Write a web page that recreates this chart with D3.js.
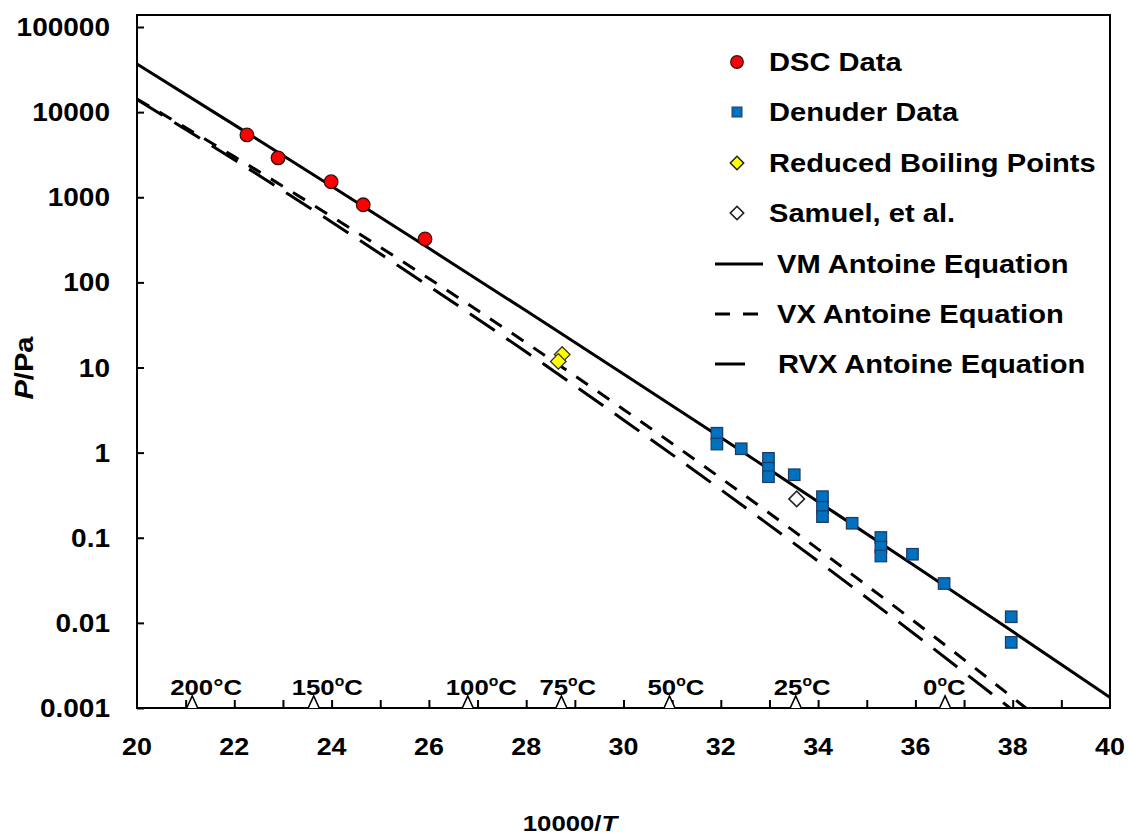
<!DOCTYPE html>
<html>
<head>
<meta charset="utf-8">
<script src="https://cdnjs.cloudflare.com/ajax/libs/d3/7.8.5/d3.min.js"></script>
<style>
  html, body { margin: 0; padding: 0; background: #fff; }
  svg { display: block; }
  text { font-family: "Liberation Sans", Arial, sans-serif; font-weight: bold; fill: #000; }
</style>
</head>
<body>
<script>
// Vapour pressure of VX: measurements and Antoine-equation fits (log P vs 10000/T)

const dscX = [22.26, 22.90, 23.99, 24.65, 25.92];
const dscP = [5400, 2900, 1520, 815, 324];

const denuderX = [31.92, 31.92, 32.42, 32.98, 32.98, 32.98, 33.51, 34.09, 34.09, 34.09,
                  34.70, 35.29, 35.29, 35.29, 35.94, 36.59, 37.97, 37.97];
const denuderP = [1.69, 1.26, 1.11, 0.857, 0.655, 0.521, 0.55, 0.304, 0.228, 0.177,
                  0.148, 0.1007, 0.0778, 0.061, 0.064, 0.029, 0.0118, 0.0059];

const boilingX = [28.74, 28.66];
const boilingP = [14.2, 11.8];

const samuelX = [33.56];
const samuelP = [0.286];

// Antoine curves
const vmX = [20, 22, 24, 26, 28, 30, 32, 34, 36, 38, 40];
const vmP = [36700, 7080, 1343, 251, 46.3, 8.41, 1.51, 0.265, 0.0462, 0.0079, 0.00133];

const vxX = [20, 22, 24, 26, 28, 30, 32, 34, 36, 38, 38.27];
const vxP = [14260, 3000, 594, 111, 19.5, 3.22, 0.502, 0.0736, 0.01016, 0.001324, 0.001];

const rvxX = [20, 22, 24, 26, 28, 30, 32, 34, 36, 37.944];
const rvxP = [14060, 2754, 512, 90.4, 15.2, 2.42, 0.367, 0.0530, 0.00725, 0.001];

// Reference temperatures marked along the x axis
const tempC = [200, 150, 100, 75, 50, 25, 0];
const tempLabels = ["200°C", "150", "100", "75", "50", "25", "0"];

const yTicks = [0.001, 0.01, 0.1, 1, 10, 100, 1000, 10000, 100000];
const yTickLabels = ["0.001", "0.01", "0.1", "1", "10", "100", "1000", "10000", "100000"];
const xTicks = [20, 22, 24, 26, 28, 30, 32, 34, 36, 38, 40];

const W = 1130, H = 839;
const plotL = 137, plotR = 1110, plotT = 15, plotB = 708;
const SX = 1.12; // horizontal stretch of the lettering

const svg = d3.select("body").append("svg").attr("width", W).attr("height", H);

const x = d3.scaleLinear().domain([20, 40]).range([plotL, plotR]);
const y = d3.scaleLog().domain([0.001, 100000]).range([plotB, 27]);

function txt(parent, px, py, str, size, anchor, rot) {
  const t = parent.append("text")
    .attr("transform", `translate(${px},${py})` + (rot ? ` rotate(${rot})` : "") + ` scale(${SX},1)`)
    .attr("font-size", size)
    .attr("text-anchor", anchor || "start");
  if (str !== null) t.text(str);
  return t;
}

svg.append("defs").append("clipPath").attr("id", "plotClip")
  .append("rect").attr("x", plotL).attr("y", plotT).attr("width", plotR - plotL).attr("height", plotB - plotT);

// Plot frame
svg.append("rect").attr("x", plotL).attr("y", plotT)
  .attr("width", plotR - plotL).attr("height", plotB - plotT)
  .attr("fill", "none").attr("stroke", "#000").attr("stroke-width", 2);

// Axes with inward ticks
const yAxis = d3.axisRight(y).tickValues(yTicks).tickSize(7).tickFormat("");
const yg = svg.append("g").attr("transform", `translate(${plotL},0)`).call(yAxis);
const xAxis = d3.axisTop(x).tickValues(d3.range(21, 40)).tickSize(8).tickFormat("");
const xg = svg.append("g").attr("transform", `translate(0,${plotB})`).call(xAxis);
[yg, xg].forEach(g => {
  g.select(".domain").remove();
  g.selectAll("line").attr("stroke", "#000").attr("stroke-width", 2);
});

// Tick labels
yTicks.forEach((v, i) => txt(svg, 110, y(v) + 9, yTickLabels[i], 25, "end"));
xTicks.forEach(v => txt(svg, x(v), 755, String(v), 24, "middle"));

// Axis titles
const xt = txt(svg, 570, 831, null, 23, "middle");
xt.append("tspan").text("10000/");
xt.append("tspan").attr("font-style", "italic").text("T");

const yt = txt(svg, 33, 368, null, 26, "middle", -90);
yt.append("tspan").attr("font-style", "italic").text("P");
yt.append("tspan").text("/Pa");

// Curves
const plot = svg.append("g").attr("clip-path", "url(#plotClip)");
const line = d3.line().x(d => x(d[0])).y(d => y(d[1])).curve(d3.curveMonotoneX);

plot.append("path").datum(d3.zip(rvxX, rvxP)).attr("d", line)
  .attr("fill", "none").attr("stroke", "#000").attr("stroke-width", 3)
  .attr("stroke-dasharray", "30,14");
plot.append("path").datum(d3.zip(vxX, vxP)).attr("d", line)
  .attr("fill", "none").attr("stroke", "#000").attr("stroke-width", 3)
  .attr("stroke-dasharray", "14,12");
plot.append("path").datum(d3.zip(vmX, vmP)).attr("d", line)
  .attr("fill", "none").attr("stroke", "#000").attr("stroke-width", 3);

// Temperature markers
const tempX = tempC.map(t => 10000 / (t + 273.15));
const tg = svg.append("g");
tempX.forEach((tx, i) => {
  const px = x(tx);
  tg.append("path")
    .attr("d", `M${px - 5.5},${plotB} L${px},${plotB - 12} L${px + 5.5},${plotB}`)
    .attr("fill", "#fff").attr("stroke", "#000").attr("stroke-width", 1.6);
  const t = txt(tg, px - 22, 695, null, 23, "start");
  if (i === 0) {
    t.text(tempLabels[i]);
  } else {
    t.append("tspan").text(tempLabels[i]);
    t.append("tspan").attr("font-size", 14).attr("dy", -9).text("o");
    t.append("tspan").attr("dy", 9).text("C");
  }
});

// Markers
const diamond = d3.symbol().type(d3.symbolSquare).size(121);

plot.selectAll(".den").data(d3.zip(denuderX, denuderP)).join("rect")
  .attr("x", d => x(d[0]) - 5.75).attr("y", d => y(d[1]) - 5.75)
  .attr("width", 11.5).attr("height", 11.5)
  .attr("fill", "#0070c0").attr("stroke", "#1f3a5f").attr("stroke-width", 1.2);

plot.selectAll(".bp").data(d3.zip(boilingX, boilingP)).join("path")
  .attr("d", diamond)
  .attr("transform", d => `translate(${x(d[0])},${y(d[1])}) rotate(45)`)
  .attr("fill", "#ffff00").attr("stroke", "#333").attr("stroke-width", 1.3);

plot.selectAll(".sam").data(d3.zip(samuelX, samuelP)).join("path")
  .attr("d", diamond)
  .attr("transform", d => `translate(${x(d[0])},${y(d[1])}) rotate(45)`)
  .attr("fill", "#fff").attr("stroke", "#222").attr("stroke-width", 1.6);

plot.selectAll(".dsc").data(d3.zip(dscX, dscP)).join("circle")
  .attr("cx", d => x(d[0])).attr("cy", d => y(d[1])).attr("r", 6.8)
  .attr("fill", "#ff0000").attr("stroke", "#3a1010").attr("stroke-width", 1.3);

// Legend
const lg = svg.append("g");
const legendRows = [62, 112, 163, 213, 264, 314, 364];
lg.append("circle").attr("cx", 737).attr("cy", legendRows[0]).attr("r", 6.3)
  .attr("fill", "#ff0000").attr("stroke", "#3a1010").attr("stroke-width", 1.2);
lg.append("rect").attr("x", 732).attr("y", legendRows[1] - 5).attr("width", 10).attr("height", 10)
  .attr("fill", "#0070c0").attr("stroke", "#1f3a5f").attr("stroke-width", 1);
lg.append("path").attr("d", d3.symbol().type(d3.symbolSquare).size(90))
  .attr("transform", `translate(737,${legendRows[2]}) rotate(45)`)
  .attr("fill", "#ffff00").attr("stroke", "#222").attr("stroke-width", 1.5);
lg.append("path").attr("d", d3.symbol().type(d3.symbolSquare).size(90))
  .attr("transform", `translate(737,${legendRows[3]}) rotate(45)`)
  .attr("fill", "#fff").attr("stroke", "#222").attr("stroke-width", 1.6);
lg.append("line").attr("x1", 715).attr("x2", 763).attr("y1", legendRows[4]).attr("y2", legendRows[4])
  .attr("stroke", "#000").attr("stroke-width", 3);
lg.append("line").attr("x1", 715).attr("x2", 760).attr("y1", legendRows[5]).attr("y2", legendRows[5])
  .attr("stroke", "#000").attr("stroke-width", 3).attr("stroke-dasharray", "15,13");
lg.append("line").attr("x1", 715).attr("x2", 745).attr("y1", legendRows[6]).attr("y2", legendRows[6])
  .attr("stroke", "#000").attr("stroke-width", 3);

const legendText = ["DSC Data", "Denuder Data", "Reduced Boiling Points", "Samuel, et al.",
                    "VM Antoine Equation", "VX Antoine Equation", "RVX Antoine Equation"];
const legendTextX = [769, 769, 769, 769, 777, 777, 778];
legendText.forEach((s, i) => txt(lg, legendTextX[i], legendRows[i] + 9, s, 26, "start"));
</script>
</body>
</html>
